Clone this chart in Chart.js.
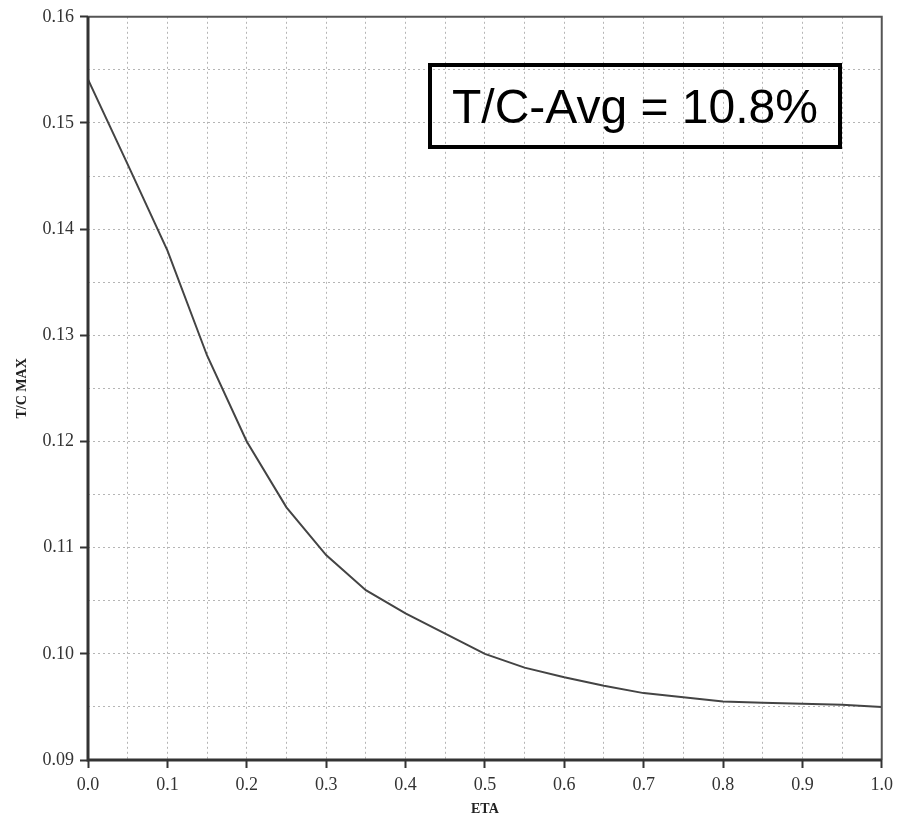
<!DOCTYPE html>
<html>
<head>
<meta charset="utf-8">
<script src="https://cdn.jsdelivr.net/npm/chart.js@4.4.1/dist/chart.umd.min.js"></script>
<style>
    html, body { margin: 0; padding: 0; background: #fff; }
    #wrap { position: relative; width: 899px; height: 822px; }
    #avgBox {
        position: absolute;
        left: 428px; top: 63px;
        width: 406px; height: 78px;
        border: 4px solid #000;
        display: flex; align-items: center; justify-content: center;
        font-family: "Liberation Sans", Arial, sans-serif;
        font-size: 48px; color: #000;
    }
</style>
</head>
<body>
<div id="wrap">
    <canvas id="chartTC" width="899" height="822"></canvas>
    <div id="avgBox">T/C-Avg = 10.8%</div>
</div>
<script>
// data
const eta = [0.0, 0.05, 0.1, 0.15, 0.2, 0.25, 0.3, 0.35, 0.4, 0.45, 0.5, 0.55, 0.6, 0.65, 0.7, 0.75, 0.8, 0.85, 0.9, 0.95, 1.0];
const tcMax = [0.1541, 0.1461, 0.1380, 0.1281, 0.1200, 0.1138, 0.1093, 0.1060, 0.1038, 0.1019, 0.1000, 0.0987, 0.0978, 0.0970, 0.0963, 0.0959, 0.0955, 0.0954, 0.0953, 0.0952, 0.0950];

const serif = '"Liberation Serif", "Times New Roman", serif';

// garis bingkai plot
const framePlugin = {
    id: 'frame',
    afterDatasetsDraw(chart) {
        const a = chart.chartArea;
        const c = chart.ctx;
        c.save();
        c.strokeStyle = '#555';
        c.lineWidth = 2;
        c.beginPath();
        c.moveTo(a.left, a.top);
        c.lineTo(a.right, a.top);
        c.lineTo(a.right, a.bottom);
        c.stroke();
        c.strokeStyle = '#333';
        c.lineWidth = 3;
        c.beginPath();
        c.moveTo(a.left, a.top);
        c.lineTo(a.left, a.bottom);
        c.lineTo(a.right, a.bottom);
        c.stroke();
        c.restore();
    }
};

document.addEventListener('DOMContentLoaded', function() {
    const ctx = document.getElementById('chartTC');
    new Chart(ctx.getContext('2d'), {
        type: 'line',
        data: {
            datasets: [{
                label: 'T/C MAX',
                data: eta.map((x, i) => ({ x: x, y: tcMax[i] })),
                borderColor: '#444',
                borderWidth: 2,
                pointRadius: 0,
                tension: 0,
                fill: false
            }]
        },
        options: {
            responsive: false,
            animation: false,
            layout: {
                padding: { top: 15, right: 15, left: 0, bottom: 0 }
            },
            plugins: {
                legend: { display: false },
                tooltip: { enabled: false }
            },
            scales: {
                x: {
                    type: 'linear',
                    min: 0,
                    max: 1,
                    border: { display: false, dash: [2, 3] },
                    ticks: {
                        stepSize: 0.05,
                        autoSkip: false,
                        maxRotation: 0,
                        padding: 6,
                        color: '#333',
                        font: { family: serif, size: 18 },
                        callback: function(v) {
                            return Math.round(v * 100) % 10 === 0 ? v.toFixed(1) : '';
                        }
                    },
                    grid: {
                        color: '#b5b5b5',
                        tickLength: 8,
                        tickBorderDash: [],
                        tickWidth: 2,
                        tickColor: function(c) {
                            return Math.round(c.tick.value * 100) % 10 === 0 ? '#333' : 'rgba(0,0,0,0)';
                        }
                    },
                    title: {
                        display: true,
                        text: 'ETA',
                        color: '#222',
                        font: { family: serif, size: 14, weight: 'bold' },
                        padding: { top: 0, bottom: 4 }
                    },
                    afterFit: function(scale) { scale.height = 62; }
                },
                y: {
                    min: 0.09,
                    max: 0.16,
                    border: { display: false, dash: [2, 3] },
                    ticks: {
                        stepSize: 0.005,
                        autoSkip: false,
                        padding: 6,
                        color: '#333',
                        font: { family: serif, size: 18 },
                        callback: function(v) {
                            return Math.round(v * 1000) % 10 === 0 ? v.toFixed(2) : '';
                        }
                    },
                    grid: {
                        color: '#b5b5b5',
                        tickLength: 8,
                        tickBorderDash: [],
                        tickWidth: 2,
                        tickColor: function(c) {
                            return Math.round(c.tick.value * 1000) % 10 === 0 ? '#333' : 'rgba(0,0,0,0)';
                        }
                    },
                    title: {
                        display: true,
                        text: 'T/C MAX',
                        color: '#222',
                        font: { family: serif, size: 14, weight: 'bold' },
                        padding: { top: 14, bottom: 4 }
                    },
                    afterFit: function(scale) { scale.width = 88; }
                }
            }
        },
        plugins: [framePlugin]
    });
});
</script>
</body>
</html>
